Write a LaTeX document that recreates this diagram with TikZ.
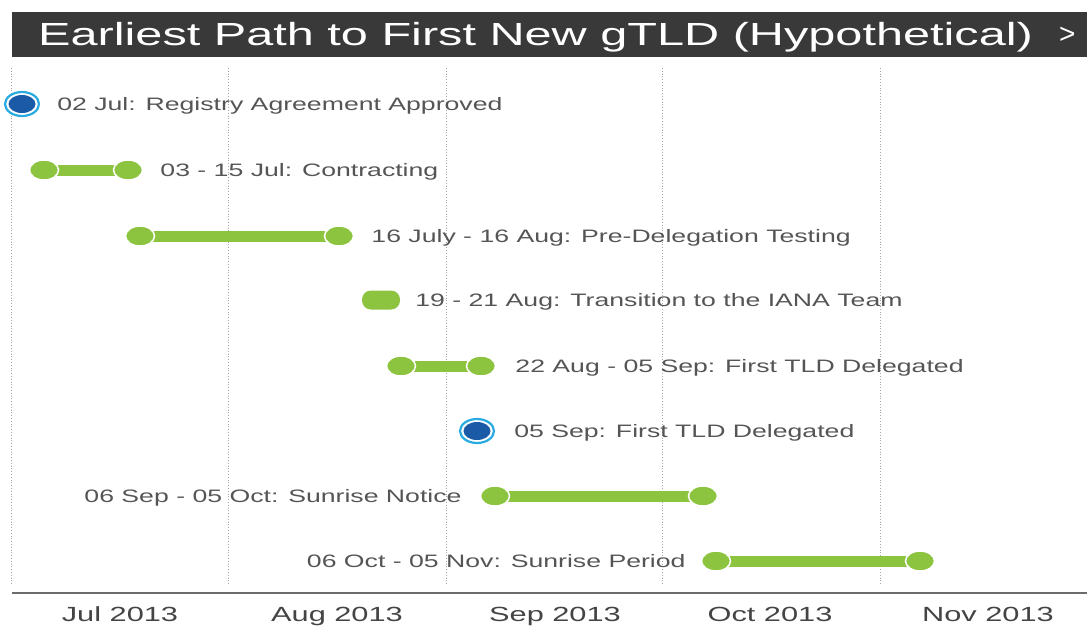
\documentclass[tikz,border=0pt]{standalone}
\usepackage{fontspec}
\setmainfont{Liberation Sans}
\newfontfamily\rowfont[FakeStretch=1.48]{Liberation Sans}
\newfontfamily\monthfont[FakeStretch=1.5]{Liberation Sans}
\newfontfamily\headfont[FakeStretch=1.52]{Liberation Sans}
\usetikzlibrary{positioning,shapes.geometric}
\definecolor{barGreen}{HTML}{8CC43F}
\definecolor{headGray}{HTML}{393939}
\definecolor{dotBlue}{HTML}{1B5AA6}
\definecolor{ringBlue}{HTML}{29ABE2}
\definecolor{labelGray}{HTML}{555555}
\definecolor{gridGray}{HTML}{A5A5A5}
\tikzset{
  endcap/.style={ellipse, fill=barGreen, draw=white, line width=1.5pt,
    minimum width=29pt, minimum height=20pt, inner sep=0pt},
  bar/.style={barGreen, line width=11pt},
  ring/.style={ellipse, draw=ringBlue, line width=2.2pt, fill=white,
    minimum width=34pt, minimum height=24pt, inner sep=0pt},
  dot/.style={ellipse, fill=dotBlue, minimum width=27pt, minimum height=18pt, inner sep=0pt},
  rowlabel/.style={font=\rowfont\fontsize{18}{20}\selectfont, text=labelGray,
    inner sep=0pt, text height=13pt, text depth=0pt},
  month/.style={font=\monthfont\fontsize{20.5}{22}\selectfont, text=labelGray!80!black,
    inner sep=0pt, text height=14.7pt, text depth=0pt},
}
\begin{document}
\begin{tikzpicture}[x=1pt, y=-1pt]
  \useasboundingbox (0,0) rectangle (1087,630);
  % title bar
  \fill[headGray] (12,12) rectangle (1087,57);
  \node[anchor=west, text=white, inner sep=0pt, text height=23pt, text depth=0pt,
    font=\headfont\fontsize{32}{34}\selectfont] (title) at (38,34) {Earliest Path to First New gTLD (Hypothetical)};
  \node[anchor=west, text=white, inner sep=0pt, font=\fontsize{28}{30}\selectfont]
    (more) at (1059,35) {>};
  % month grid
  \foreach \gx in {11,228,446,662,880}
    \draw[gridGray, dotted, line width=0.8pt] (\gx,68) -- (\gx,586);
  \draw[gray!85!black, line width=1.8pt] (12,593) -- (1087,593);
  \node[month] (jul) at (120,614.5) {Jul 2013};
  \node[month] (aug) at (337,614.5) {Aug 2013};
  \node[month] (sep) at (555,614.5) {Sep 2013};
  \node[month] (oct) at (770,614.5) {Oct 2013};
  \node[month] (nov) at (988,614.5) {Nov 2013};
  % 02 Jul
  \node[ring] (raRing) at (22,104) {};
  \node[dot] (ra) at (22,104) {};
  \node[rowlabel, right=17pt of raRing] (raText) {02 Jul: Registry Agreement Approved};
  % 03 - 15 Jul
  \draw[bar] (44,170) -- (128,170);
  \node[endcap] (ctrS) at (44,170) {};
  \node[endcap] (ctrE) at (128,170) {};
  \node[rowlabel, right=17pt of ctrE] (ctrText) {03 - 15 Jul: Contracting};
  % 16 July - 16 Aug
  \draw[bar] (140,236) -- (339,236);
  \node[endcap] (pdtS) at (140,236) {};
  \node[endcap] (pdtE) at (339,236) {};
  \node[rowlabel, right=17pt of pdtE] (pdtText) {16 July - 16 Aug: Pre-Delegation Testing};
  % 19 - 21 Aug
  \node[fill=barGreen, rounded corners=9pt, minimum width=38pt, minimum height=19pt,
    inner sep=0pt] (iana) at (381,300) {};
  \node[rowlabel, right=15pt of iana] (ianaText) {19 - 21 Aug: Transition to the IANA Team};
  % 22 Aug - 05 Sep
  \draw[bar] (401,366) -- (481,366);
  \node[endcap] (delS) at (401,366) {};
  \node[endcap] (delE) at (481,366) {};
  \node[rowlabel, right=19pt of delE] (delText) {22 Aug - 05 Sep: First TLD Delegated};
  % 05 Sep
  \node[ring] (tldRing) at (477,431) {};
  \node[dot] (tld) at (477,431) {};
  \node[rowlabel, right=19pt of tldRing] (tldText) {05 Sep: First TLD Delegated};
  % 06 Sep - 05 Oct
  \draw[bar] (495,496) -- (703,496);
  \node[endcap] (snS) at (495,496) {};
  \node[endcap] (snE) at (703,496) {};
  \node[rowlabel, left=18pt of snS] (snText) {06 Sep - 05 Oct: Sunrise Notice};
  % 06 Oct - 05 Nov
  \draw[bar] (716,561) -- (920,561);
  \node[endcap] (spS) at (716,561) {};
  \node[endcap] (spE) at (920,561) {};
  \node[rowlabel, left=15pt of spS] (spText) {06 Oct - 05 Nov: Sunrise Period};
\end{tikzpicture}
\end{document}
